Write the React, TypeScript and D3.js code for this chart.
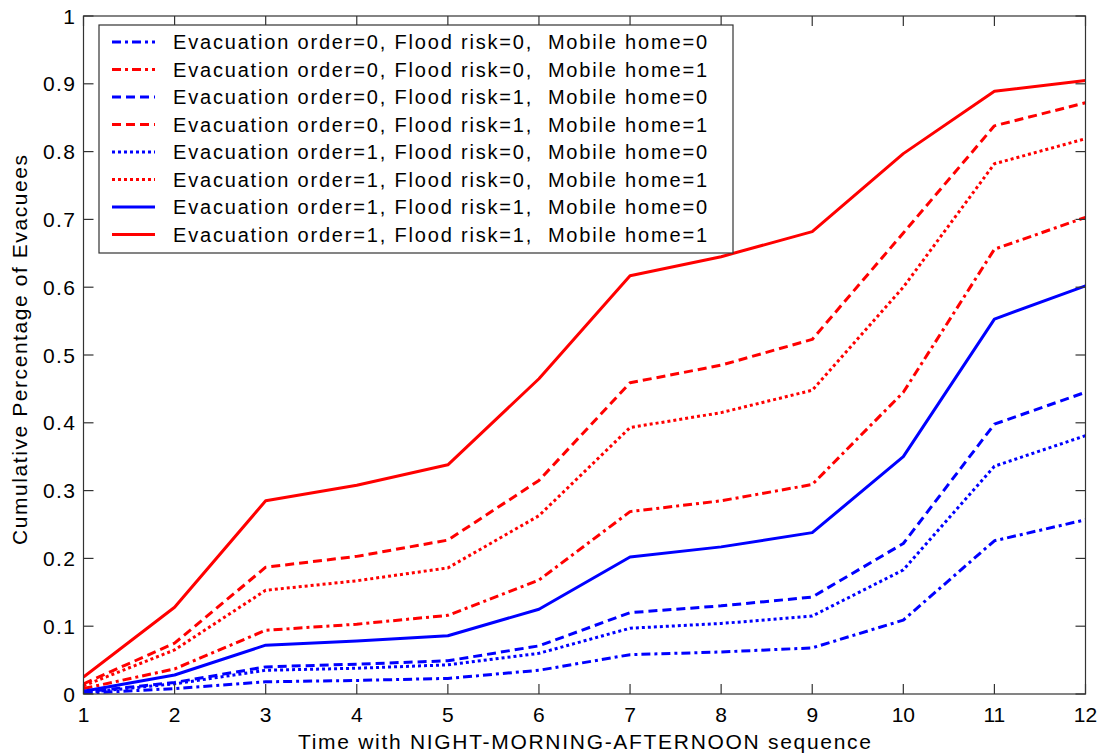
import React from "react";
import * as d3 from "d3";

const times = [1, 2, 3, 4, 5, 6, 7, 8, 9, 10, 11, 12];
const xTicks = [1, 2, 3, 4, 5, 6, 7, 8, 9, 10, 11, 12];
const yTicks = [0, 0.1, 0.2, 0.3, 0.4, 0.5, 0.6, 0.7, 0.8, 0.9, 1];

const e0f0m0 = [0.001, 0.008, 0.018, 0.020, 0.023, 0.035, 0.058, 0.062, 0.068, 0.109, 0.226, 0.257];
const e0f0m1 = [0.008, 0.037, 0.094, 0.103, 0.116, 0.168, 0.269, 0.285, 0.309, 0.445, 0.656, 0.703];
const e0f1m0 = [0.003, 0.017, 0.040, 0.044, 0.049, 0.071, 0.120, 0.130, 0.143, 0.222, 0.398, 0.445];
const e0f1m1 = [0.015, 0.075, 0.187, 0.203, 0.227, 0.315, 0.459, 0.485, 0.523, 0.680, 0.838, 0.872];
const e1f0m0 = [0.002, 0.015, 0.035, 0.038, 0.043, 0.060, 0.097, 0.104, 0.115, 0.183, 0.336, 0.381];
const e1f0m1 = [0.012, 0.065, 0.153, 0.167, 0.186, 0.263, 0.393, 0.415, 0.448, 0.600, 0.782, 0.819];
const e1f1m0 = [0.004, 0.028, 0.072, 0.078, 0.086, 0.125, 0.202, 0.217, 0.238, 0.350, 0.553, 0.602];
const e1f1m1 = [0.025, 0.128, 0.285, 0.308, 0.338, 0.465, 0.617, 0.645, 0.682, 0.797, 0.889, 0.905];

const seriesLabels = [
  "Evacuation order=0, Flood risk=0,  Mobile home=0",
  "Evacuation order=0, Flood risk=0,  Mobile home=1",
  "Evacuation order=0, Flood risk=1,  Mobile home=0",
  "Evacuation order=0, Flood risk=1,  Mobile home=1",
  "Evacuation order=1, Flood risk=0,  Mobile home=0",
  "Evacuation order=1, Flood risk=0,  Mobile home=1",
  "Evacuation order=1, Flood risk=1,  Mobile home=0",
  "Evacuation order=1, Flood risk=1,  Mobile home=1",
];
const seriesValues = [e0f0m0, e0f0m1, e0f1m0, e0f1m1, e1f0m0, e1f0m1, e1f1m0, e1f1m1];
const seriesColors = ["#0000ff", "#ff0000", "#0000ff", "#ff0000", "#0000ff", "#ff0000", "#0000ff", "#ff0000"];
const seriesDash = ["9,4,3,4", "9,4,3,4", "9,5", "9,5", "3,3", "3,3", "", ""];

const W = 1102;
const H = 755;
const FONT = "'Liberation Sans', Arial, sans-serif";

export default function App() {
  const left = 83.5, right = 1085.5, top = 16, bottom = 694;
  const x = d3.scaleLinear().domain([1, 12]).range([left, right]);
  const y = d3.scaleLinear().domain([0, 1]).range([bottom, top]);
  const line = d3.line<number>().x((_, i) => x(times[i])).y((d) => y(d));
  const tickLen = 10;
  const axisColor = "#333";

  const legX = 99, legY = 25, legW = 634, legH = 228;
  const rowPitch = 27.5;

  return (
    <svg width={W} height={H} style={{ position: "absolute", left: 0, top: 0, background: "#fff" }} fontFamily={FONT}>
      <rect x={0} y={0} width={W} height={H} fill="#fff" />
      <defs>
        <clipPath id="plotclip">
          <rect x={left} y={top} width={right - left} height={bottom - top} />
        </clipPath>
      </defs>
      <g clipPath="url(#plotclip)">
        {seriesValues.map((vals, i) => (
          <path
            key={i}
            d={line(vals) || ""}
            fill="none"
            stroke={seriesColors[i]}
            strokeWidth={3}
            strokeDasharray={seriesDash[i] || undefined}
            strokeLinejoin="round"
          />
        ))}
      </g>
      <rect x={left} y={top} width={right - left} height={bottom - top} fill="none" stroke={axisColor} strokeWidth={1.2} />
      {xTicks.map((t) => (
        <g key={"x" + t}>
          <line x1={x(t)} x2={x(t)} y1={bottom} y2={bottom - tickLen} stroke={axisColor} strokeWidth={1.2} />
          <line x1={x(t)} x2={x(t)} y1={top} y2={top + tickLen} stroke={axisColor} strokeWidth={1.2} />
          <text x={x(t)} y={722} textAnchor="middle" fontSize={21} fill="#000">{t}</text>
        </g>
      ))}
      {yTicks.map((t) => {
        const s = d3.format("~g")(t);
        return (
          <g key={"y" + t}>
            <line x1={left} x2={left + tickLen} y1={y(t)} y2={y(t)} stroke={axisColor} strokeWidth={1.2} />
            <line x1={right} x2={right - tickLen} y1={y(t)} y2={y(t)} stroke={axisColor} strokeWidth={1.2} />
            <text x={75} y={y(t)} dy="0.36em" textAnchor="end" fontSize={21} fill="#000"
              textLength={s.length > 1 ? 32 : undefined} lengthAdjust="spacing">{s}</text>
          </g>
        );
      })}
      <text x={(left + right) / 2} y={749} textAnchor="middle" fontSize={21} fill="#000"
        textLength={573} lengthAdjust="spacing">
        Time with NIGHT-MORNING-AFTERNOON sequence
      </text>
      <text transform={`translate(27, ${(top + bottom) / 2 - 5}) rotate(-90)`} textAnchor="middle" fontSize={21} fill="#000"
        textLength={390} lengthAdjust="spacing">
        Cumulative Percentage of Evacuees
      </text>
      <rect x={legX} y={legY} width={legW} height={legH} fill="#fff" stroke={axisColor} strokeWidth={1.2} />
      {seriesLabels.map((lab, i) => {
        const cy = legY + 17 + i * rowPitch;
        return (
          <g key={"l" + i}>
            <line x1={112} x2={155} y1={cy} y2={cy} stroke={seriesColors[i]} strokeWidth={3} strokeDasharray={seriesDash[i] || undefined} />
            <text x={173} y={cy} dy="0.36em" fontSize={20} fill="#000" style={{ whiteSpace: "pre" }}
              textLength={534} lengthAdjust="spacing">{lab}</text>
          </g>
        );
      })}
    </svg>
  );
}
